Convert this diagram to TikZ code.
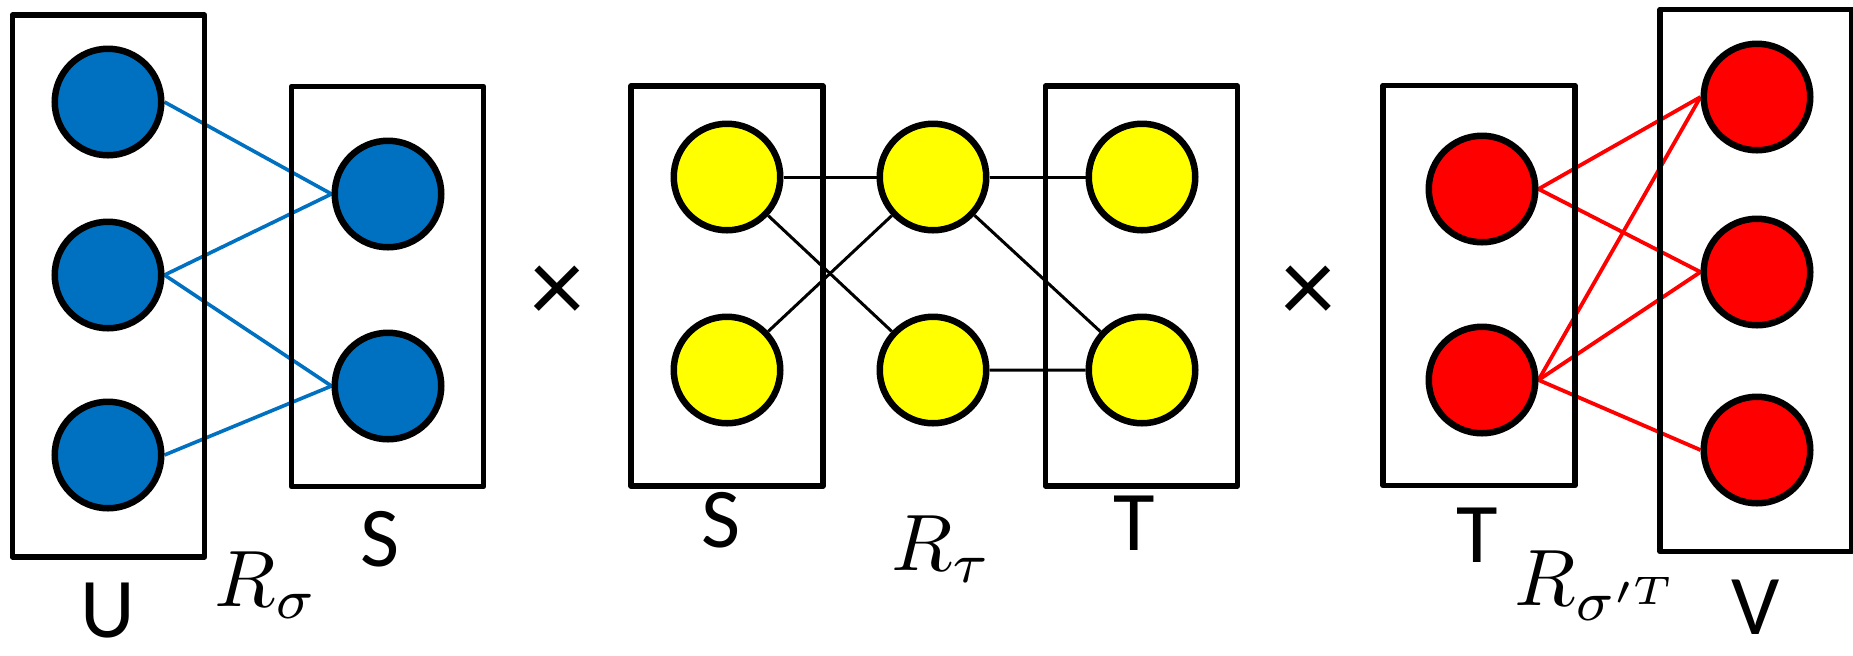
\documentclass[tikz,border=0pt]{standalone}
\usepackage{fontspec}
\setsansfont{Carlito}
\usepackage{tikz}
\usetikzlibrary{positioning, backgrounds}
\definecolor{setblue}{HTML}{0070C0}
\definecolor{setyellow}{HTML}{FFFF00}
\definecolor{setred}{HTML}{FF0000}

\newcommand{\relfont}[1]{\scalebox{4}{#1}}

\tikzset{
  elem/.style={circle, draw=black, line width=3.25pt, minimum size=53.25pt, inner sep=0pt},
  setbox/.style={draw=black, line width=2.75pt, line join=round, minimum width=96pt, inner sep=0pt},
  tallset/.style={setbox, minimum height=271pt},
  shortset/.style={setbox, minimum height=200pt},
  setname/.style={font=\sffamily\fontsize{42.5}{50}\selectfont, anchor=base, inner sep=0pt},
  relname/.style={anchor=base west, inner sep=0pt},
  prodsign/.style={font=\sffamily\fontsize{54}{54}\selectfont, inner sep=0pt},
  rel/.style={line width=1.8pt},
}

\begin{document}
\begin{tikzpicture}[x=0.5pt, y=-0.5pt]
  \useasboundingbox (0,0) rectangle (1853,655);

  % the sets
  \node[tallset]  (U)  at (108.5,286)  {};
  \node[shortset] (S)  at (387.5,286.5) {};
  \node[shortset] (S2) at (727,286)    {};
  \node[shortset] (T)  at (1141.5,286) {};
  \node[shortset] (T2) at (1479,285.5) {};
  \node[tallset]  (V)  at (1756,280.5) {};

  % blue elements
  \node[elem, fill=setblue] (u1) at (108,102) {};
  \node[elem, fill=setblue] (u2) at (108,275) {};
  \node[elem, fill=setblue] (u3) at (108,455) {};
  \node[elem, fill=setblue] (s1) at (388,194) {};
  \node[elem, fill=setblue] (s2) at (388,386) {};

  % yellow elements
  \foreach \n/\x in {a/727, b/933, c/1142} {
    \node[elem, fill=setyellow] (\n1) at (\x,177) {};
    \node[elem, fill=setyellow] (\n2) at (\x,370) {};
  }

  % red elements
  \node[elem, fill=setred] (t1) at (1482,189) {};
  \node[elem, fill=setred] (t2) at (1482,380) {};
  \node[elem, fill=setred] (v1) at (1757,97)  {};
  \node[elem, fill=setred] (v2) at (1757,272) {};
  \node[elem, fill=setred] (v3) at (1757,450) {};

  % relations go under the boxes
  \begin{pgfonlayer}{background}
    \draw[rel, setblue] (u1.east) -- (s1.west);
    \draw[rel, setblue] (u2.east) -- (s1.west);
    \draw[rel, setblue] (u2.east) -- (s2.west);
    \draw[rel, setblue] (u3.east) -- (s2.west);

    \draw[rel, line width=1.5pt] (a1) -- (b1) -- (c1);
    \draw[rel, line width=1.5pt] (a2) -- (b1) -- (c2);
    \draw[rel, line width=1.5pt] (a1) -- (b2) -- (c2);

    \draw[rel, setred, line width=1.9pt] (t1.east) -- (v1.west);
    \draw[rel, setred, line width=1.9pt] (t1.east) -- (v2.west);
    \draw[rel, setred, line width=1.9pt] (t2.east) -- (v1.west);
    \draw[rel, setred, line width=1.9pt] (t2.east) -- (v2.west);
    \draw[rel, setred, line width=1.9pt] (t2.east) -- (v3.west);
  \end{pgfonlayer}

  % names
  \node[setname] (labU)  at (108,637)  {U};
  \node[setname] (labS)  at (380,566)  {S};
  \node[setname] (labS2) at (721,547)  {S};
  \node[setname] (labT)  at (1134,550) {T};
  \node[setname] (labT2) at (1477,562) {T};
  \node[setname] (labV)  at (1756,634) {V};

  \node[relname] (rsigma) at (214,606)  {\relfont{$R_\sigma$}};
  \node[relname] (rtau)   at (891,570)  {\relfont{$R_\tau$}};
  \node[relname] (rsigT)  at (1514,605) {\relfont{$R_{\sigma'^{T}}$}};

  \node[prodsign] (times1) at (557,294)  {×};
  \node[prodsign] (times2) at (1308,294) {×};
\end{tikzpicture}
\end{document}
